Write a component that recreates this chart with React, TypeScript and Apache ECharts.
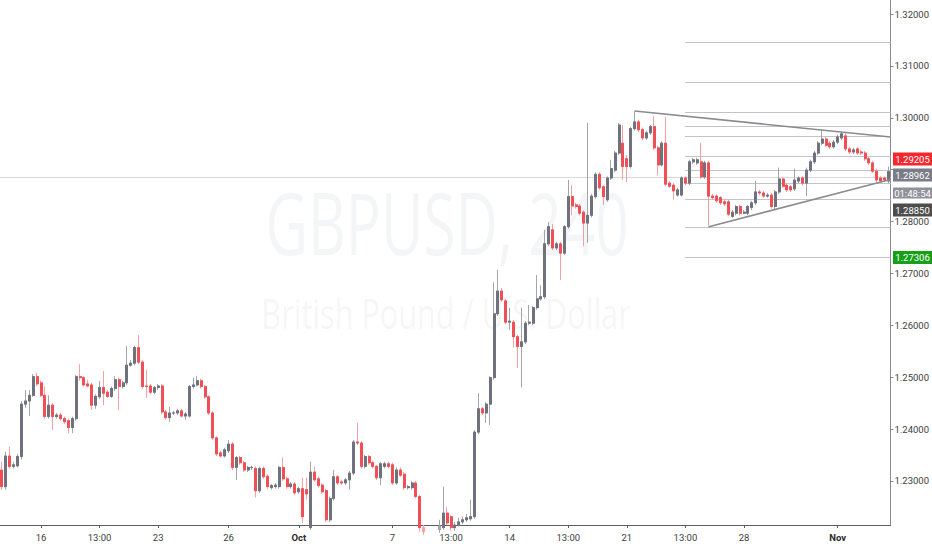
import { useEffect, useRef } from 'react';
import * as echarts from 'echarts';

// GBPUSD 4h candles from left to right
const opens = [
  1.2321, 1.2289, 1.2348, 1.2328, 1.2329, 1.2347, 1.2448, 1.2454, 1.2465, 1.2501,
  1.2489, 1.2465, 1.2424, 1.2446, 1.2424, 1.2427, 1.2420, 1.2416, 1.2403, 1.2420,
  1.2501, 1.2499, 1.2487, 1.2485, 1.2446, 1.2462, 1.2480, 1.2471, 1.2463, 1.2478,
  1.2495, 1.2482, 1.2489, 1.2523, 1.2527, 1.2557, 1.2529, 1.2483, 1.2483, 1.2471,
  1.2480, 1.2483, 1.2433, 1.2422, 1.2431, 1.2431, 1.2435, 1.2425, 1.2425, 1.2482,
  1.2485, 1.2493, 1.2482, 1.2462, 1.2431, 1.2383, 1.2354, 1.2348, 1.2358, 1.2371,
  1.2326, 1.2345, 1.2335, 1.2321, 1.2326, 1.2324, 1.2281, 1.2324, 1.2309, 1.2287,
  1.2289, 1.2289, 1.2326, 1.2304, 1.2289, 1.2294, 1.2279, 1.2285, 1.2283, 1.2210,
  1.2317, 1.2304, 1.2292, 1.2281, 1.2225, 1.2266, 1.2308, 1.2298, 1.2296, 1.2302,
  1.2315, 1.2375, 1.2373, 1.2328, 1.2347, 1.2335, 1.2328, 1.2306, 1.2328, 1.2333,
  1.2331, 1.2296, 1.2321, 1.2313, 1.2287, 1.2287, 1.2296, 1.2270, 1.2210, 1.2206,
  1.2204, 1.2200, 1.2206, 1.2210, 1.2238, 1.2231, 1.2210, 1.2215, 1.2221, 1.2225,
  1.2227, 1.2231, 1.2394, 1.2439, 1.2431, 1.2448, 1.2499, 1.2622, 1.2666, 1.2647,
  1.2606, 1.2606, 1.2578, 1.2559, 1.2568, 1.2604, 1.2604, 1.2634, 1.2651, 1.2655,
  1.2757, 1.2784, 1.2749, 1.2757, 1.2739, 1.2790, 1.2848, 1.2832, 1.2830, 1.2818,
  1.2797, 1.2812, 1.2848, 1.2891, 1.2867, 1.2842, 1.2884, 1.2899, 1.2932, 1.2951,
  1.2921, 1.2906, 1.2979, 1.2992, 1.2977, 1.2961, 1.2971, 1.2983, 1.2942, 1.2909,
  1.2951, 1.2874, 1.2870, 1.2851, 1.2851, 1.2884, 1.2874, 1.2915, 1.2913, 1.2915,
  1.2886, 1.2913, 1.2849, 1.2849, 1.2846, 1.2838, 1.2838, 1.2810, 1.2816, 1.2829,
  1.2816, 1.2816, 1.2827, 1.2836, 1.2857, 1.2855, 1.2849, 1.2851, 1.2829, 1.2857,
  1.2882, 1.2870, 1.2867, 1.2863, 1.2878, 1.2884, 1.2874, 1.2899, 1.2915, 1.2932,
  1.2951, 1.2959, 1.2951, 1.2944, 1.2953, 1.2961, 1.2965, 1.2940, 1.2934, 1.2940,
  1.2934, 1.2932, 1.2921, 1.2913, 1.2897, 1.2884, 1.2884, 1.2878,
];
const closes = [
  1.2289, 1.2348, 1.2328, 1.2331, 1.2347, 1.2448, 1.2454, 1.2465, 1.2501, 1.2487,
  1.2465, 1.2424, 1.2446, 1.2424, 1.2427, 1.2420, 1.2414, 1.2403, 1.2420, 1.2501,
  1.2499, 1.2485, 1.2483, 1.2446, 1.2463, 1.2480, 1.2469, 1.2463, 1.2478, 1.2495,
  1.2482, 1.2489, 1.2523, 1.2527, 1.2557, 1.2529, 1.2482, 1.2482, 1.2471, 1.2480,
  1.2483, 1.2433, 1.2422, 1.2431, 1.2431, 1.2435, 1.2425, 1.2429, 1.2482, 1.2485,
  1.2493, 1.2482, 1.2462, 1.2431, 1.2383, 1.2352, 1.2348, 1.2360, 1.2371, 1.2326,
  1.2345, 1.2335, 1.2321, 1.2326, 1.2326, 1.2281, 1.2324, 1.2308, 1.2289, 1.2291,
  1.2292, 1.2326, 1.2304, 1.2289, 1.2294, 1.2277, 1.2285, 1.2231, 1.2275, 1.2317,
  1.2302, 1.2291, 1.2279, 1.2225, 1.2266, 1.2308, 1.2296, 1.2296, 1.2302, 1.2315,
  1.2375, 1.2373, 1.2328, 1.2347, 1.2335, 1.2328, 1.2306, 1.2333, 1.2333, 1.2328,
  1.2296, 1.2321, 1.2311, 1.2287, 1.2289, 1.2296, 1.2270, 1.2210, 1.2202, 1.2200,
  1.2198, 1.2206, 1.2213, 1.2238, 1.2219, 1.2210, 1.2215, 1.2221, 1.2225, 1.2229,
  1.2231, 1.2394, 1.2439, 1.2431, 1.2448, 1.2499, 1.2622, 1.2666, 1.2649, 1.2606,
  1.2608, 1.2578, 1.2559, 1.2568, 1.2604, 1.2606, 1.2634, 1.2651, 1.2655, 1.2757,
  1.2790, 1.2749, 1.2757, 1.2739, 1.2790, 1.2848, 1.2830, 1.2829, 1.2816, 1.2797,
  1.2812, 1.2849, 1.2891, 1.2865, 1.2848, 1.2884, 1.2902, 1.2932, 1.2986, 1.2906,
  1.2906, 1.2979, 1.2992, 1.2977, 1.2961, 1.2971, 1.2983, 1.2942, 1.2909, 1.2951,
  1.2872, 1.2868, 1.2859, 1.2861, 1.2884, 1.2874, 1.2915, 1.2919, 1.2919, 1.2886,
  1.2913, 1.2849, 1.2846, 1.2840, 1.2836, 1.2834, 1.2814, 1.2818, 1.2829, 1.2816,
  1.2818, 1.2829, 1.2836, 1.2857, 1.2855, 1.2849, 1.2851, 1.2829, 1.2857, 1.2882,
  1.2868, 1.2861, 1.2861, 1.2880, 1.2884, 1.2874, 1.2899, 1.2915, 1.2932, 1.2951,
  1.2959, 1.2947, 1.2944, 1.2953, 1.2963, 1.2969, 1.2940, 1.2934, 1.2938, 1.2932,
  1.2932, 1.2921, 1.2913, 1.2897, 1.2880, 1.2878, 1.2880, 1.28962,
];
const lows = [
  1.2283, 1.2283, 1.2324, 1.2324, 1.2326, 1.2341, 1.2441, 1.2425, 1.2462, 1.2483,
  1.2462, 1.2420, 1.2420, 1.2398, 1.2420, 1.2416, 1.2410, 1.2392, 1.2392, 1.2416,
  1.2493, 1.2482, 1.2480, 1.2437, 1.2439, 1.2458, 1.2446, 1.2460, 1.2460, 1.2473,
  1.2437, 1.2478, 1.2485, 1.2520, 1.2523, 1.2525, 1.2478, 1.2460, 1.2467, 1.2467,
  1.2475, 1.2429, 1.2418, 1.2414, 1.2427, 1.2427, 1.2422, 1.2418, 1.2422, 1.2478,
  1.2482, 1.2478, 1.2458, 1.2427, 1.2379, 1.2348, 1.2345, 1.2345, 1.2354, 1.2321,
  1.2302, 1.2331, 1.2317, 1.2317, 1.2321, 1.2268, 1.2277, 1.2304, 1.2285, 1.2283,
  1.2285, 1.2285, 1.2300, 1.2285, 1.2285, 1.2273, 1.2275, 1.2219, 1.2264, 1.2206,
  1.2298, 1.2287, 1.2275, 1.2221, 1.2221, 1.2262, 1.2292, 1.2292, 1.2292, 1.2283,
  1.2311, 1.2369, 1.2324, 1.2324, 1.2331, 1.2324, 1.2302, 1.2292, 1.2324, 1.2324,
  1.2292, 1.2292, 1.2308, 1.2283, 1.2283, 1.2283, 1.2266, 1.2202, 1.2196, 1.2194,
  1.2193, 1.2194, 1.2200, 1.2206, 1.2215, 1.2204, 1.2204, 1.2212, 1.2217, 1.2221,
  1.2223, 1.2227, 1.2390, 1.2427, 1.2412, 1.2408, 1.2495, 1.2618, 1.2645, 1.2602,
  1.2591, 1.2557, 1.2518, 1.2480, 1.2564, 1.2600, 1.2600, 1.2630, 1.2647, 1.2651,
  1.2753, 1.2745, 1.2745, 1.2687, 1.2735, 1.2786, 1.2812, 1.2825, 1.2812, 1.2752,
  1.2759, 1.2808, 1.2844, 1.2861, 1.2832, 1.2838, 1.2880, 1.2895, 1.2928, 1.2880,
  1.2876, 1.2902, 1.2975, 1.2973, 1.2957, 1.2957, 1.2967, 1.2938, 1.2889, 1.2906,
  1.2868, 1.2865, 1.2842, 1.2848, 1.2848, 1.2870, 1.2870, 1.2911, 1.2909, 1.2882,
  1.2882, 1.2790, 1.2842, 1.2836, 1.2832, 1.2830, 1.2810, 1.2807, 1.2812, 1.2812,
  1.2814, 1.2812, 1.2822, 1.2832, 1.2851, 1.2846, 1.2846, 1.2825, 1.2822, 1.2853,
  1.2865, 1.2857, 1.2857, 1.2859, 1.2874, 1.2870, 1.2849, 1.2895, 1.2911, 1.2928,
  1.2947, 1.2944, 1.2940, 1.2940, 1.2949, 1.2957, 1.2936, 1.2930, 1.2930, 1.2928,
  1.2928, 1.2917, 1.2909, 1.2893, 1.2876, 1.2874, 1.2876, 1.2874,
];
const highs = [
  1.2337, 1.2356, 1.2366, 1.2337, 1.2352, 1.2454, 1.2475, 1.2475, 1.2506, 1.2508,
  1.2493, 1.2482, 1.2465, 1.2450, 1.2431, 1.2431, 1.2424, 1.2420, 1.2424, 1.2504,
  1.2525, 1.2502, 1.2495, 1.2489, 1.2467, 1.2493, 1.2512, 1.2475, 1.2482, 1.2502,
  1.2499, 1.2493, 1.2560, 1.2533, 1.2560, 1.2581, 1.2533, 1.2514, 1.2487, 1.2483,
  1.2487, 1.2487, 1.2437, 1.2443, 1.2435, 1.2439, 1.2439, 1.2433, 1.2485, 1.2499,
  1.2502, 1.2497, 1.2485, 1.2465, 1.2435, 1.2386, 1.2358, 1.2364, 1.2379, 1.2375,
  1.2348, 1.2348, 1.2339, 1.2329, 1.2329, 1.2328, 1.2328, 1.2328, 1.2313, 1.2294,
  1.2296, 1.2329, 1.2345, 1.2308, 1.2298, 1.2298, 1.2289, 1.2306, 1.2306, 1.2337,
  1.2328, 1.2308, 1.2296, 1.2285, 1.2270, 1.2321, 1.2311, 1.2302, 1.2306, 1.2319,
  1.2379, 1.2412, 1.2377, 1.2350, 1.2350, 1.2339, 1.2331, 1.2337, 1.2337, 1.2337,
  1.2335, 1.2326, 1.2326, 1.2317, 1.2292, 1.2300, 1.2300, 1.2273, 1.2215, 1.2212,
  1.2210, 1.2213, 1.2225, 1.2289, 1.2249, 1.2234, 1.2221, 1.2229, 1.2231, 1.2236,
  1.2264, 1.2398, 1.2469, 1.2443, 1.2452, 1.2502, 1.2683, 1.2707, 1.2672, 1.2651,
  1.2634, 1.2610, 1.2581, 1.2634, 1.2608, 1.2639, 1.2637, 1.2697, 1.2677, 1.2784,
  1.2799, 1.2795, 1.2761, 1.2761, 1.2793, 1.2880, 1.2870, 1.2836, 1.2834, 1.2822,
  1.2990, 1.2853, 1.2895, 1.2895, 1.2870, 1.2887, 1.2919, 1.2936, 1.2990, 1.2986,
  1.2928, 1.2982, 1.3013, 1.2996, 1.2981, 1.2975, 1.2986, 1.3003, 1.2946, 1.2955,
  1.3002, 1.2878, 1.2874, 1.2865, 1.2887, 1.2887, 1.2919, 1.2923, 1.2923, 1.2951,
  1.2917, 1.2917, 1.2853, 1.2853, 1.2849, 1.2842, 1.2842, 1.2822, 1.2832, 1.2832,
  1.2822, 1.2832, 1.2840, 1.2878, 1.2861, 1.2859, 1.2855, 1.2855, 1.2861, 1.2904,
  1.2886, 1.2874, 1.2870, 1.2902, 1.2887, 1.2887, 1.2904, 1.2919, 1.2936, 1.2955,
  1.2977, 1.2963, 1.2955, 1.2957, 1.2967, 1.2973, 1.2971, 1.2944, 1.2942, 1.2944,
  1.2938, 1.2936, 1.2925, 1.2917, 1.2902, 1.2887, 1.2887, 1.2906,
];

// time-axis labels: [candle index, text]
const xTicks: Array<[number, string]> = [
  [10, '16'], [25, '13:00'], [40, '23'], [58, '26'], [76, 'Oct'], [100, '7'], [115, '13:00'],
  [130, '14'], [145, '13:00'], [160, '21'], [175, '13:00'], [190, '28'], [214, 'Nov'],
];
const monthLabels = ['Oct', 'Nov'];
const hiddenPriceTicks = [1.29];

// drawings
const levelPrices = [1.3145, 1.3069, 1.3010, 1.2984, 1.2964, 1.2925, 1.2899, 1.2874, 1.2842, 1.2789, 1.27306];
const levelStart = 174.9;
const rightEdge = 227.5;
const guidePrice = 1.2885;
const upperTrend = [[162, 1.3013], [227.5, 1.2963]];
const lowerTrend = [[181, 1.2790], [227.5, 1.2881]];

const priceTags = [
  { value: 1.29205, text: '1.29205', color: '#f7262f' },
  { value: 1.28962, text: '1.28962', color: '#7a7d87', sub: '01:48:54', subColor: '#8e919a' },
  { value: 1.2885, text: '1.28850', color: '#4d4d4d' },
  { value: 1.27306, text: '1.27306', color: '#17a017' },
];

const FONT = 'Roboto, "Noto Sans", sans-serif';
const UP = '#6f727d';
const DOWN = '#ef4f55';
const UP_WICK = '#a3a5ad';
const DOWN_WICK = '#f4a1a4';

export default function App() {
  const ref = useRef<HTMLDivElement>(null);

  useEffect(() => {
    const el = ref.current;
    if (!el) return undefined;
    const chart = echarts.init(el, undefined, { renderer: 'svg' });
    const categories = opens.map((_, i) => String(i));
    const tickMap = new Map(xTicks);
    const showTick = (i: number) => tickMap.has(i);

    chart.setOption({
      animation: false,
      grid: { left: 0, right: 39, top: 0, bottom: 25 },
      xAxis: [
        {
          type: 'category',
          data: categories,
          boundaryGap: true,
          axisLine: { lineStyle: { color: '#5d5d5d', width: 1 } },
          axisTick: { show: true, interval: showTick, alignWithLabel: true, length: 3, lineStyle: { color: '#5d5d5d' } },
          axisLabel: {
            interval: showTick,
            margin: 7,
            color: '#3e3e3e',
            fontSize: 9.5,
            fontFamily: FONT,
            formatter: (_v: string, i: number) => {
              const t = tickMap.get(i) ?? '';
              return monthLabels.includes(t) ? `{b|${t}}` : t;
            },
            rich: { b: { fontWeight: 'bold', fontSize: 9.5, fontFamily: FONT, color: '#2a2a2a' } },
          },
          splitLine: { show: false },
        },
        { type: 'value', min: -0.5, max: rightEdge, show: false },
      ],
      yAxis: {
        type: 'value',
        position: 'right',
        min: 1.2215,
        max: 1.3227,
        splitNumber: 10,
        axisLine: { show: true, onZero: false, lineStyle: { color: '#8a8a8a' } },
        axisTick: { show: true, length: 3, lineStyle: { color: '#8a8a8a' } },
        axisLabel: {
          showMinLabel: false,
          showMaxLabel: false,
          margin: 4,
          color: '#3e3e3e',
          fontSize: 9.5,
          fontFamily: FONT,
          formatter: (v: number) => (hiddenPriceTicks.some((h) => Math.abs(h - v) < 1e-6) ? '' : v.toFixed(5)),
        },
        splitLine: { show: false },
      },
      series: [
        {
          type: 'lines',
          coordinateSystem: 'cartesian2d',
          xAxisIndex: 1,
          yAxisIndex: 0,
          silent: true,
          z: 1,
          lineStyle: { color: '#c2c4c9', width: 1.2, opacity: 1 },
          data: [
            ...levelPrices.map((p) => ({ coords: [[levelStart, p], [rightEdge, p]] })),
            { coords: [[-0.5, guidePrice], [rightEdge, guidePrice]], lineStyle: { color: '#d9d9d9', width: 1, opacity: 1 } },
          ],
        },
        {
          type: 'candlestick',
          name: 'wicks',
          silent: true,
          barWidth: 2.5,
          data: opens.map((o, i) => [o, closes[i], lows[i], highs[i]]),
          itemStyle: { color: UP_WICK, color0: DOWN_WICK, borderColor: UP_WICK, borderColor0: DOWN_WICK, borderColorDoji: UP_WICK, borderWidth: 1 },
        },
        {
          type: 'candlestick',
          name: 'GBPUSD',
          silent: true,
          barWidth: 2.5,
          data: opens.map((o, i) => [o, closes[i], Math.min(o, closes[i]), Math.max(o, closes[i])]),
          itemStyle: { color: UP, color0: DOWN, borderColor: UP, borderColor0: DOWN, borderColorDoji: UP, borderWidth: 1 },
        },
        {
          type: 'lines',
          coordinateSystem: 'cartesian2d',
          xAxisIndex: 1,
          yAxisIndex: 0,
          silent: true,
          z: 5,
          lineStyle: { color: '#8b8b8b', width: 1.6, opacity: 1 },
          data: [{ coords: upperTrend }, { coords: lowerTrend }],
        },
      ],
    });

    // price tags on the right axis, stacked so they do not overlap
    const yOf = (v: number) => chart.convertToPixel({ yAxisIndex: 0 }, v) as number;
    const tagH = 13;
    const subH = 11;
    let floor = -Infinity;
    const tagGraphics: any[] = [];
    priceTags.forEach((tag) => {
      const center = Math.max(yOf(tag.value), floor + tagH / 2);
      const top = center - tagH / 2;
      tagGraphics.push(
        { type: 'rect', z: 100, silent: true, shape: { x: 893, y: top, width: 39, height: tagH }, style: { fill: tag.color } },
        { type: 'text', z: 101, silent: true, x: 912.5, y: center, style: { text: tag.text, fill: '#fff', align: 'center', verticalAlign: 'middle', fontSize: 9.5, fontFamily: FONT } },
      );
      floor = top + tagH + 3;
      if (tag.sub) {
        const subTop = top + tagH + 6;
        tagGraphics.push(
          { type: 'rect', z: 100, silent: true, shape: { x: 893, y: subTop, width: 39, height: subH }, style: { fill: tag.subColor } },
          { type: 'text', z: 101, silent: true, x: 912.5, y: subTop + subH / 2, style: { text: tag.sub, fill: '#fff', align: 'center', verticalAlign: 'middle', fontSize: 9.5, fontFamily: FONT } },
        );
        floor = subTop + subH + 5;
      }
    });

    chart.setOption({
      graphic: [
        {
          type: 'text', z: 0, silent: true, x: 447, y: 222, scaleX: 0.68,
          style: { text: 'GBPUSD, 240', fill: 'rgba(120,123,134,0.08)', align: 'center', verticalAlign: 'middle', fontSize: 86, fontFamily: '"Open Sans", sans-serif' },
        },
        {
          type: 'text', z: 0, silent: true, x: 446, y: 313, scaleX: 0.73,
          style: { text: 'British Pound / U.S. Dollar', fill: 'rgba(120,123,134,0.08)', align: 'center', verticalAlign: 'middle', fontSize: 42, fontFamily: '"Open Sans", sans-serif' },
        },
        ...tagGraphics,
      ],
    });

    return () => chart.dispose();
  }, []);

  return <div ref={ref} style={{ position: 'fixed', left: 0, top: 0, width: 932, height: 550, background: '#fff' }} />;
}
